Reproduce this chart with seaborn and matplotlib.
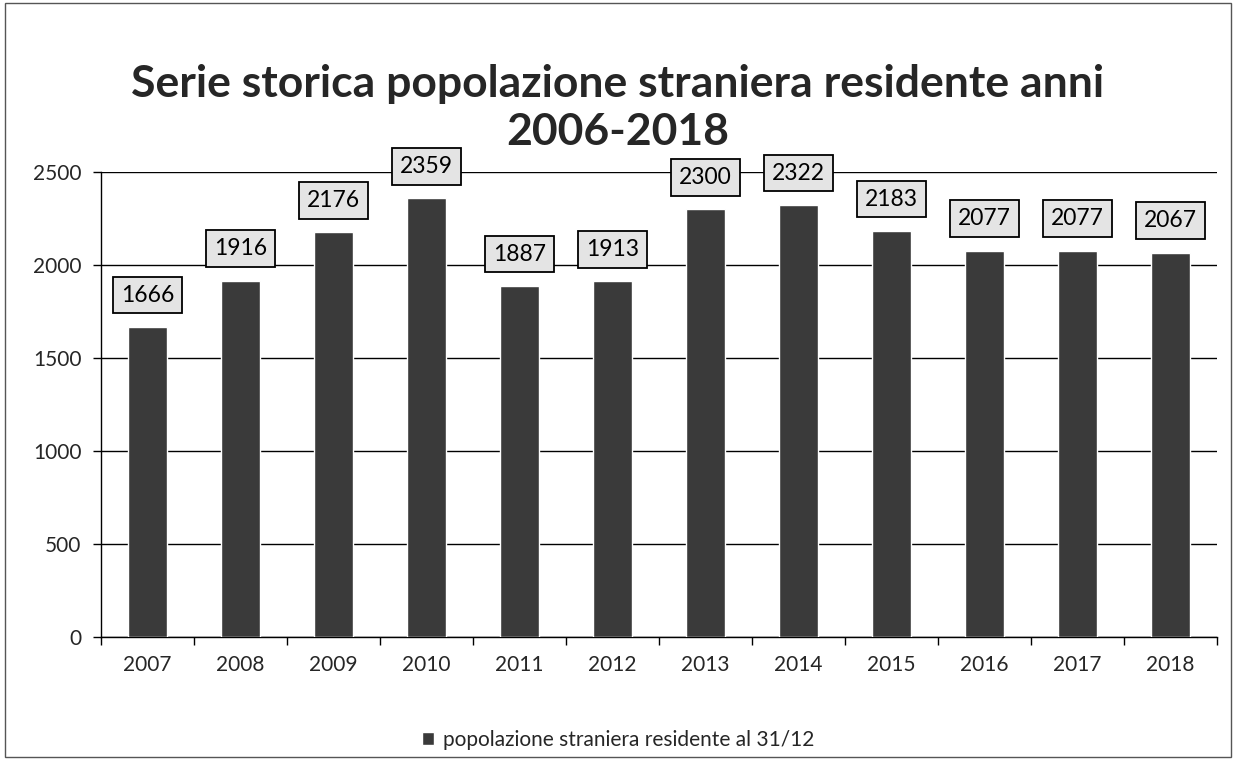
import matplotlib
matplotlib.use("Agg")
import matplotlib.pyplot as plt
import seaborn as sns
import pandas as pd
import numpy as np

years = ["2007", "2008", "2009", "2010", "2011", "2012", "2013", "2014", "2015", "2016", "2017", "2018"]
values = [1666, 1916, 2176, 2359, 1887, 1913, 2300, 2322, 2183, 2077, 2077, 2067]
series_name = "popolazione straniera residente al 31/12"
title = "Serie storica popolazione straniera residente anni\n2006-2018"

sns.set_theme(style="white")
plt.rcParams['font.family'] = ['Lato', 'DejaVu Sans']

df = pd.DataFrame({"anno": years, "valore": values})

fig = plt.figure(figsize=(12.36, 7.6), dpi=100)
ax = fig.add_axes([101/1236, 1 - 637/760, (1217-101)/1236, (637-172)/760])

sns.barplot(data=df, x="anno", y="valore", color="#3a3a3a", width=0.41, ax=ax,
            saturation=1, label=series_name, zorder=3)

ax.set_ylim(0, 2500)
ax.set_xlim(-0.5, len(years) - 0.5)
ax.set_yticks(np.arange(0, 2501, 500))
ax.yaxis.grid(True, color="black", linewidth=1.0, zorder=0)
ax.set_axisbelow(True)
for s in ["top", "right"]:
    ax.spines[s].set_visible(False)
ax.spines["left"].set_color("black")
ax.spines["bottom"].set_color("black")
ax.spines["left"].set_linewidth(1.0)
ax.spines["bottom"].set_linewidth(1.0)
ax.set_xlabel("")
ax.set_ylabel("")
ax.tick_params(axis="y", length=6, width=1, color="black", left=True, labelsize=15, pad=8)
ax.tick_params(axis="x", length=0, labelsize=15, pad=13)
ax.set_xticks(np.arange(-0.5, len(years) + 0.5, 1.0), minor=True)
ax.tick_params(axis="x", which="minor", length=6, width=1, color="black", bottom=True)

for i, v in enumerate(values):
    ax.annotate(str(v), xy=(i, v), xytext=(0, 23), textcoords="offset points",
                ha="center", va="center", fontsize=16.5, color="black",
                bbox=dict(boxstyle="square,pad=0.34", fc="#e4e4e4", ec="black", lw=1.3),
                zorder=5)

fig.text(0.5, 1 - 108/760, title, ha="center", va="center", fontsize=32,
         fontweight="bold", linespacing=1.25)

leg = fig.legend(handles=ax.patches[:1], labels=[series_name], loc="center",
                 bbox_to_anchor=(0.5, 1 - 740/760), frameon=False, fontsize=15,
                 handlelength=0.6, handleheight=0.6, handletextpad=0.4)
if ax.get_legend() is not None:
    ax.get_legend().remove()

border = plt.Rectangle((0.004, 0.004), 0.992, 0.992, transform=fig.transFigure,
                       fill=False, ec="#555555", lw=1.0)
fig.patches.append(border)

fig.savefig("out.png", dpi=100)
